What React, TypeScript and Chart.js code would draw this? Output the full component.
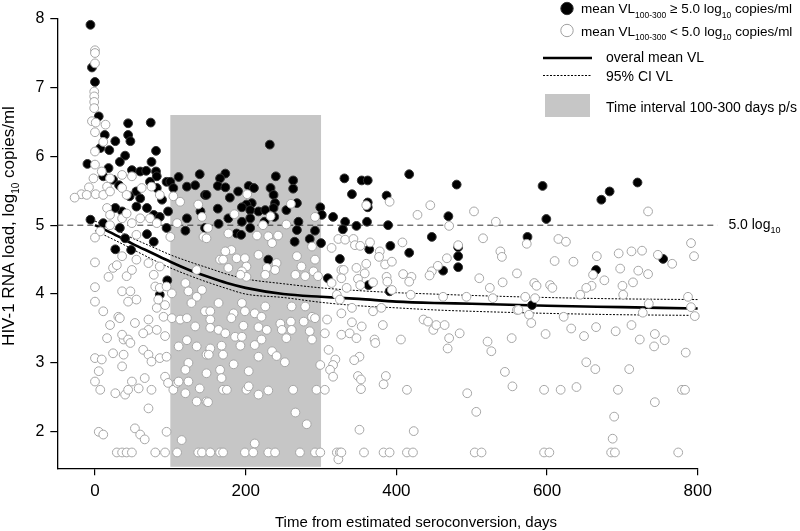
import React, { useEffect, useRef } from "react";
import { Chart, registerables } from "chart.js";

Chart.register(...registerables);

const FONT = '"Liberation Sans", Arial, Helvetica, sans-serif';

// ---- axes ----
const xTicks = [0, 200, 400, 600, 800];
const yTicks = [2, 3, 4, 5, 6, 7, 8];
const xRange = [-50, 800];
const yRange = [1.47, 8];
const intervalDays = [100, 300];
const intervalTop = 6.6;
const thresholdVL = 5.0;
const thresholdLineEnd = 826;

// ---- overall mean VL and 95% CI ----
const curveX = [0, 25, 50, 75, 100, 125, 150, 175, 200, 250, 300, 350, 400, 450, 500, 600, 700, 800];
const meanVL = [5.0, 4.87, 4.73, 4.6, 4.47, 4.35, 4.25, 4.16, 4.09, 4.0, 3.96, 3.93, 3.89, 3.87, 3.86, 3.83, 3.81, 3.79];
const ciUpper = [5.06, 4.95, 4.81, 4.69, 4.57, 4.47, 4.38, 4.29, 4.22, 4.15, 4.09, 4.05, 4.02, 4.0, 3.98, 3.95, 3.93, 3.92];
const ciLower = [4.92, 4.79, 4.65, 4.51, 4.38, 4.27, 4.17, 4.08, 4.0, 3.95, 3.88, 3.83, 3.8, 3.77, 3.75, 3.72, 3.7, 3.69];

// ---- patients with mean VL(100-300) >= 5.0 (black) ----
const blackEarly: [number, number][] = [
  [-6, 7.91], [-4, 7.29], [0, 7.08], [5, 6.58], [44, 6.48], [74, 6.49], [44, 6.31], [47, 6.22], [27, 6.22],
  [13, 6.31], [7, 6.12], [19, 6.09], [81, 6.08], [40, 6.01], [-10, 5.89], [33, 5.92], [18, 5.83], [75, 5.92],
  [49, 5.8], [60, 5.78], [81, 5.78], [68, 5.79], [11, 5.71], [24, 5.66], [32, 5.58], [82, 5.71], [73, 5.63],
  [55, 5.49], [60, 5.39], [46, 5.42], [95, 5.63], [100, 5.63], [111, 5.7], [122, 5.56], [133, 5.58], [139, 5.74],
  [146, 5.44], [104, 5.54], [82, 5.54], [89, 5.37], [69, 5.25], [55, 5.27], [36, 5.2], [27, 5.25], [78, 5.15],
  [97, 5.2], [86, 5.12], [122, 5.1], [140, 5.2], [-6, 5.08], [11, 5.03], [33, 4.96], [95, 4.96], [69, 4.87],
  [120, 4.92], [146, 4.96], [27, 4.65], [48, 4.64], [78, 4.76], [96, 4.2], [86, 3.99], [40, 4.81],
];
const blackMid: [number, number][] = [
  [232, 6.17], [173, 5.75], [166, 5.68], [163, 5.57], [173, 5.55], [179, 5.4], [190, 5.49], [204, 5.57],
  [211, 5.54], [240, 5.71], [233, 5.54], [237, 5.44], [263, 5.65], [263, 5.53], [239, 5.32], [208, 5.32],
  [201, 5.3], [195, 5.26], [163, 5.24], [206, 5.22], [217, 5.2], [226, 5.22], [237, 5.25], [254, 5.22],
  [268, 5.32], [299, 5.26], [301, 5.15], [177, 5.1], [164, 5.02], [195, 5.05], [206, 5.1], [206, 4.96],
  [225, 5.05], [238, 5.12], [270, 5.05], [268, 4.93], [292, 4.92], [188, 4.88], [194, 4.86], [265, 4.76],
  [285, 4.8], [300, 4.74], [316, 5.12], [148, 5.44], [230, 4.5], [309, 4.23],
];
const blackLate: [number, number][] = [
  [331, 5.68], [354, 5.65], [362, 5.65], [341, 5.45], [387, 5.43], [362, 5.33], [362, 5.26], [417, 5.74],
  [480, 5.59], [332, 5.05], [329, 4.94], [347, 4.99], [361, 5.05], [389, 5.0], [469, 5.13], [447, 4.83],
  [364, 4.65], [392, 4.7], [417, 4.6], [482, 4.68], [482, 4.55], [482, 4.39], [462, 4.34], [325, 4.51],
  [363, 4.13], [391, 4.04], [594, 5.57], [599, 5.09], [672, 5.37], [683, 5.49], [720, 5.62], [574, 4.83],
  [665, 4.35], [754, 4.51], [580, 3.84],
];

// ---- patients with mean VL(100-300) < 5.0 (white) ----
const whiteEarlyHigh: [number, number][] = [
  [0, 7.54], [0, 7.5], [0, 7.35], [-1, 6.94], [-1, 6.87], [-1, 6.79], [-1, 6.7], [-4, 6.51], [1, 6.49],
  [14, 6.46], [0, 6.35], [11, 6.21], [0, 6.07], [0, 5.88], [9, 5.78], [-2, 5.68], [20, 5.68], [36, 5.73],
  [49, 5.71], [-8, 5.55], [-18, 5.45], [-27, 5.4], [-11, 5.44], [1, 5.45], [11, 5.44], [16, 5.56], [20, 5.49],
  [36, 5.54], [42, 5.44], [62, 5.54], [75, 5.56], [86, 5.44], [104, 5.42], [113, 5.34], [137, 5.3], [142, 5.12],
  [16, 5.25], [20, 5.15], [36, 5.1], [42, 5.17], [49, 5.03], [60, 5.1], [73, 5.1], [82, 5.03], [109, 5.03],
  [20, 5.0], [7, 4.91], [55, 4.86], [100, 4.83], [144, 4.83], [0, 4.82],
];
const whiteEarlyLow: [number, number][] = [
  [0, 4.46], [0, 4.1], [0, 3.89], [11, 3.75], [18, 4.25], [24, 4.38], [29, 4.42], [36, 4.55], [42, 4.26],
  [49, 4.35], [55, 4.5], [71, 4.45], [78, 4.28], [86, 4.4], [36, 4.04], [47, 4.04], [55, 3.92], [44, 3.89],
  [31, 3.67], [20, 3.55], [16, 3.36], [38, 3.34], [33, 3.65], [53, 3.58], [71, 3.63], [82, 3.8], [80, 4.11],
  [86, 4.09], [95, 4.11], [84, 3.92], [93, 3.84], [102, 4.01], [91, 3.67], [102, 3.65], [71, 3.48], [82, 3.48],
  [93, 3.39], [64, 3.43], [36, 3.41], [44, 3.34], [47, 3.29], [64, 3.19], [71, 3.12], [75, 3.02], [86, 3.07],
  [95, 3.09], [24, 3.14], [38, 3.12], [36, 2.95], [0, 3.07], [9, 3.05], [5, 2.88], [0, 2.73], [7, 2.61],
  [27, 2.56], [40, 2.54], [44, 2.61], [49, 2.73], [58, 2.63], [75, 2.61], [66, 2.78], [93, 2.8], [97, 2.71],
  [104, 2.61], [109, 2.71], [120, 2.56], [71, 2.34], [5, 2.0], [11, 1.96], [53, 2.05], [60, 1.96], [66, 1.89],
  [95, 2.0], [115, 1.88], [29, 1.7], [36, 1.7], [42, 1.7], [49, 1.7], [80, 1.7], [93, 1.7], [109, 1.7],
  [137, 1.7], [142, 1.7], [120, 4.16], [124, 4.04], [135, 3.96], [128, 3.87], [113, 3.63], [122, 3.65],
  [133, 3.53], [122, 3.33], [135, 3.24], [111, 3.24], [124, 3.0], [120, 2.9], [111, 2.73], [124, 2.73],
  [139, 2.63], [135, 2.44], [148, 2.44], [148, 2.85], [148, 3.12], [146, 3.75], [142, 4.06], [135, 4.35],
];
const whiteMid: [number, number][] = [
  [202, 5.45], [185, 5.16], [233, 5.13], [260, 5.31], [254, 5.01], [223, 5.0], [177, 4.88], [215, 4.85],
  [230, 4.84], [243, 4.85], [292, 5.12], [148, 4.81], [150, 4.96], [323, 4.8], [181, 4.64], [173, 4.62],
  [166, 4.5], [170, 4.5], [177, 4.38], [188, 4.52], [199, 4.52], [201, 4.4], [195, 4.33], [217, 4.57],
  [241, 4.45], [239, 4.35], [228, 4.38], [226, 4.28], [235, 4.74], [201, 4.25], [193, 4.28], [268, 4.55],
  [274, 4.4], [292, 4.5], [290, 4.33], [266, 4.28], [279, 4.26], [296, 4.26], [288, 4.69], [314, 4.67],
  [327, 4.35], [314, 4.16], [321, 3.99], [164, 3.87], [153, 3.75], [153, 3.63], [153, 3.51], [164, 3.48],
  [173, 3.43], [184, 3.72], [195, 3.87], [199, 3.75], [212, 3.72], [221, 3.67], [226, 3.82], [181, 3.65],
  [197, 3.54], [217, 3.52], [228, 3.48], [246, 3.57], [248, 3.48], [260, 3.6], [261, 3.48], [254, 3.36],
  [277, 3.6], [288, 3.67], [292, 3.65], [279, 3.82], [261, 3.82], [285, 3.46], [288, 3.34], [186, 3.38],
  [195, 3.38], [193, 3.25], [212, 3.26], [221, 3.34], [217, 3.09], [235, 3.17], [241, 3.1], [252, 3.01],
  [299, 2.97], [153, 3.21], [168, 3.25], [151, 3.12], [170, 3.12], [184, 2.98], [166, 2.9], [168, 2.78],
  [204, 2.88], [170, 2.61], [175, 2.61], [201, 2.61], [204, 2.66], [217, 2.54], [230, 2.6], [263, 2.61],
  [294, 2.61], [305, 2.61], [150, 2.43], [266, 2.28], [281, 2.11], [212, 1.83], [153, 1.7], [166, 1.7],
  [170, 1.7], [199, 1.7], [210, 1.7], [230, 1.7], [239, 1.7], [272, 1.7], [292, 1.7], [299, 1.7], [321, 1.7],
  [325, 1.7], [323, 1.6], [308, 3.63], [305, 3.43], [310, 3.19], [319, 3.05], [316, 2.97], [312, 2.9],
  [316, 2.8], [327, 3.41], [327, 3.72], [325, 3.92],
];
const whiteLate: [number, number][] = [
  [391, 5.34], [360, 5.29], [445, 5.29], [428, 5.15], [503, 5.2], [532, 5.05], [470, 4.99], [332, 4.79],
  [343, 4.8], [345, 4.71], [352, 4.7], [365, 4.75], [408, 4.75], [482, 4.71], [515, 4.81], [378, 4.62],
  [377, 4.54], [385, 4.43], [394, 4.47], [360, 4.44], [347, 4.38], [330, 4.35], [327, 4.23], [349, 4.22],
  [358, 4.3], [334, 4.09], [352, 4.13], [369, 4.17], [387, 4.25], [388, 4.18], [394, 4.06], [409, 4.29],
  [420, 4.25], [417, 4.18], [447, 4.33], [455, 4.41], [444, 4.27], [467, 4.52], [538, 4.62], [540, 4.54],
  [510, 4.23], [524, 4.09], [541, 4.17], [560, 4.3], [493, 3.96], [528, 3.94], [462, 3.96], [419, 3.99],
  [369, 3.75], [341, 3.8], [380, 3.8], [436, 3.63], [442, 3.6], [449, 3.48], [453, 3.55], [464, 3.55],
  [560, 3.77], [341, 3.59], [354, 3.53], [338, 3.43], [347, 3.36], [382, 3.55], [371, 3.34], [372, 3.29],
  [406, 3.34], [470, 3.36], [468, 3.21], [484, 3.43], [521, 3.31], [526, 3.17], [553, 3.36], [351, 3.09],
  [344, 3.04], [349, 2.81], [353, 2.76], [353, 2.62], [386, 2.81], [383, 2.69], [414, 2.61], [494, 2.56],
  [544, 2.87], [554, 2.66], [506, 2.29], [351, 2.03], [423, 2.01], [327, 1.7], [357, 1.7], [383, 1.7],
  [391, 1.7], [414, 1.7], [422, 1.7], [504, 1.7], [513, 1.7],
];
const whiteLatest: [number, number][] = [
  [734, 5.2], [573, 4.73], [615, 4.8], [625, 4.76], [610, 4.48], [635, 4.47], [666, 4.55], [695, 4.59],
  [712, 4.62], [726, 4.63], [747, 4.57], [766, 4.44], [791, 4.74], [795, 4.55], [661, 4.28], [676, 4.2],
  [659, 4.12], [652, 4.09], [644, 3.99], [697, 4.37], [721, 4.34], [734, 4.29], [700, 4.12], [714, 4.17],
  [701, 3.99], [583, 4.16], [586, 4.12], [604, 4.13], [607, 4.09], [571, 3.96], [584, 3.94], [562, 3.77],
  [576, 3.7], [579, 3.58], [622, 3.67], [787, 3.96], [791, 3.81], [796, 3.68], [735, 3.86], [727, 3.73],
  [598, 3.42], [632, 3.5], [649, 3.39], [665, 3.52], [691, 3.46], [712, 3.55], [723, 3.34], [743, 3.42],
  [756, 3.33], [742, 3.24], [784, 3.15], [652, 3.01], [664, 2.91], [709, 2.91], [596, 2.61], [618, 2.61],
  [639, 2.65], [694, 2.61], [779, 2.61], [783, 2.61], [743, 2.43], [689, 2.22], [687, 1.9], [596, 1.7],
  [603, 1.7], [685, 1.7], [690, 1.7], [774, 1.7],
];

type Part = [string, boolean];

function drawRich(ctx: CanvasRenderingContext2D, x: number, y: number, parts: Part[], size: number, subSize: number, subOff: number) {
  let cx = x;
  for (const [t, sub] of parts) {
    ctx.font = `${sub ? subSize : size}px ${FONT}`;
    ctx.fillText(t, cx, sub ? y + subOff : y);
    cx += ctx.measureText(t).width;
  }
  return cx - x;
}
function measureRich(ctx: CanvasRenderingContext2D, parts: Part[], size: number, subSize: number) {
  let w = 0;
  for (const [t, sub] of parts) {
    ctx.font = `${sub ? subSize : size}px ${FONT}`;
    w += ctx.measureText(t).width;
  }
  return w;
}

const RECT_COLOR = "#c6c6c6";

const backgroundPlugin = {
  id: "bgRect",
  beforeDatasetsDraw(chart: any) {
    const { ctx, chartArea } = chart;
    const xs = chart.scales.x;
    const ys = chart.scales.y;
    ctx.save();
    const l = xs.getPixelForValue(intervalDays[0]);
    const r = xs.getPixelForValue(intervalDays[1]);
    const t = ys.getPixelForValue(intervalTop);
    const b = chartArea.bottom - 1.5;
    ctx.fillStyle = RECT_COLOR;
    ctx.fillRect(l, t, r - l, b - t);
    const y5 = ys.getPixelForValue(thresholdVL);
    ctx.strokeStyle = "#333";
    ctx.lineWidth = 1;
    ctx.setLineDash([6, 4]);
    ctx.beginPath();
    ctx.moveTo(chartArea.left, y5);
    ctx.lineTo(xs.getPixelForValue(thresholdLineEnd), y5);
    ctx.stroke();
    ctx.restore();
  },
};

const overlayPlugin = {
  id: "overlay",
  afterDraw(chart: any) {
    const { ctx } = chart;
    const xs = chart.scales.x;
    const ys = chart.scales.y;
    ctx.save();
    ctx.fillStyle = "#000";
    ctx.textAlign = "left";
    ctx.textBaseline = "alphabetic";

    // threshold label
    const y5 = ys.getPixelForValue(thresholdVL);
    drawRich(ctx, xs.getPixelForValue(thresholdLineEnd) + 11, y5 + 3.5, [["5.0 log", false], ["10", true]], 14, 9, 4.5);

    // y title
    const yParts: Part[] = [["HIV-1 RNA load, log", false], ["10", true], [" copies/ml", false]];
    const yw = measureRich(ctx, yParts, 17, 10);
    ctx.save();
    ctx.translate(13.5, 226);
    ctx.rotate(-Math.PI / 2);
    drawRich(ctx, -yw / 2, 0, yParts, 17, 10, 5);
    ctx.restore();

    // x title
    ctx.font = `15px ${FONT}`;
    ctx.textAlign = "right";
    ctx.fillText("Time from estimated seroconversion, days", 557, 527);
    ctx.textAlign = "left";

    // legend
    ctx.lineWidth = 1;
    ctx.beginPath();
    ctx.arc(567, 8.5, 6.2, 0, Math.PI * 2);
    ctx.fillStyle = "#000";
    ctx.fill();
    ctx.strokeStyle = "#333";
    ctx.stroke();
    ctx.beginPath();
    ctx.arc(567, 30.5, 6.2, 0, Math.PI * 2);
    ctx.fillStyle = "#fff";
    ctx.fill();
    ctx.strokeStyle = "#a0a0a0";
    ctx.stroke();
    ctx.fillStyle = "#000";
    const row1: Part[] = [["mean VL", false], ["100-300", true], [" \u2265 5.0 log", false], ["10", true], [" copies/ml", false]];
    const row2: Part[] = [["mean VL", false], ["100-300", true], [" < 5.0 log", false], ["10", true], [" copies/ml", false]];
    drawRich(ctx, 581, 13.3, row1, 13.5, 8.5, 4.5);
    drawRich(ctx, 581, 35.5, row2, 13.5, 8.5, 4.5);

    ctx.strokeStyle = "#000";
    ctx.lineWidth = 2.5;
    ctx.beginPath();
    ctx.moveTo(543, 58);
    ctx.lineTo(592, 58);
    ctx.stroke();
    ctx.lineWidth = 1;
    ctx.setLineDash([2, 1.5]);
    ctx.beginPath();
    ctx.moveTo(543, 75.5);
    ctx.lineTo(592, 75.5);
    ctx.stroke();
    ctx.setLineDash([]);
    ctx.fillStyle = RECT_COLOR;
    ctx.fillRect(545, 94, 45, 23);
    ctx.fillStyle = "#000";
    ctx.font = `14px ${FONT}`;
    ctx.fillText("overal mean VL", 606, 62);
    ctx.fillText("95% CI VL", 606, 80.5);
    ctx.fillText("Time interval 100-300 days p/s", 606, 111.5);
    ctx.restore();
  },
};

const toPts = (arr: [number, number][]) => arr.map(([x, y]) => ({ x, y }));
const toCurve = (ys: number[]) => curveX.map((x, i) => ({ x, y: ys[i] }));

export default function App() {
  const ref = useRef<HTMLCanvasElement>(null);
  useEffect(() => {
    if (!ref.current) return;
    const white = toPts([...whiteEarlyHigh, ...whiteEarlyLow, ...whiteMid, ...whiteLate, ...whiteLatest]);
    const black = toPts([...blackEarly, ...blackMid, ...blackLate]);
    const axisCommon = {
      type: "linear" as const,
      grid: { display: true, drawOnChartArea: false, drawTicks: true, tickLength: 7, color: "#000", lineWidth: 1.2 },
      border: { display: true, color: "#000", width: 1.3 },
    };
    const lineCommon = {
      type: "line",
      borderColor: "#000",
      pointRadius: 0,
      showLine: true,
      cubicInterpolationMode: "monotone",
      fill: false,
    };
    const chart = new Chart(ref.current, {
      type: "scatter",
      data: {
        datasets: [
          {
            label: "low",
            data: white,
            pointRadius: 4.4,
            pointHoverRadius: 4.4,
            backgroundColor: "#ffffff",
            borderColor: "#a6a6a6",
            borderWidth: 1,
            clip: false,
          } as any,
          {
            label: "high",
            data: black,
            pointRadius: 4.4,
            pointHoverRadius: 4.4,
            backgroundColor: "#000000",
            borderColor: "#333333",
            borderWidth: 1,
            clip: false,
          } as any,
          { ...lineCommon, label: "mean", data: toCurve(meanVL), borderWidth: 2.6 } as any,
          { ...lineCommon, label: "upper", data: toCurve(ciUpper), borderWidth: 1, borderDash: [2, 1.5] } as any,
          { ...lineCommon, label: "lower", data: toCurve(ciLower), borderWidth: 1, borderDash: [2, 1.5] } as any,
        ],
      },
      options: {
        responsive: false,
        animation: false,
        events: [],
        layout: { padding: { top: 18.6, right: 102.2, left: 0, bottom: 0 } },
        plugins: { legend: { display: false }, tooltip: { enabled: false } },
        scales: {
          x: {
            ...axisCommon,
            min: xRange[0],
            max: xRange[1],
            afterBuildTicks: (s: any) => {
              s.ticks = xTicks.map((v) => ({ value: v }));
            },
            afterFit: (s: any) => {
              s.height = 62.7;
            },
            ticks: { color: "#000", font: { family: FONT, size: 17 }, padding: 6, maxRotation: 0, autoSkip: false },
          },
          y: {
            ...axisCommon,
            min: yRange[0],
            max: yRange[1],
            afterBuildTicks: (s: any) => {
              s.ticks = yTicks.map((v) => ({ value: v }));
            },
            afterFit: (s: any) => {
              s.width = 57.3;
            },
            ticks: { color: "#000", font: { family: FONT, size: 16 }, padding: 6, autoSkip: false },
          },
        },
      } as any,
      plugins: [backgroundPlugin, overlayPlugin],
    });
    return () => chart.destroy();
  }, []);
  return (
    <div style={{ position: "absolute", left: 0, top: 0, width: 800, height: 531, background: "#fff" }}>
      <canvas ref={ref} width={800} height={531} style={{ display: "block" }} />
    </div>
  );
}
